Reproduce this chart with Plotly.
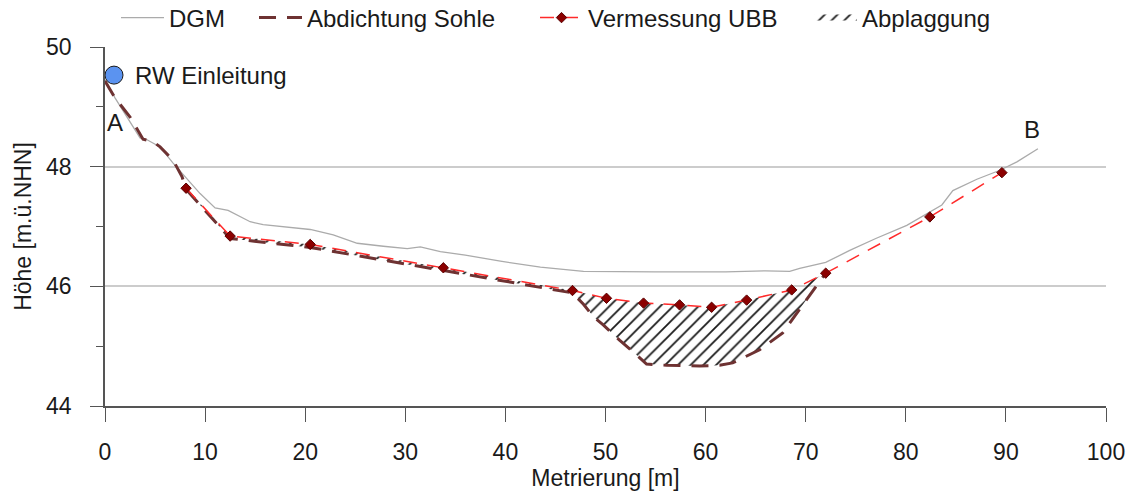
import plotly.graph_objects as go

# ---------------- data ----------------
dgm_x = [0.0, 1.0, 3.5, 4.2, 5.5, 6.8, 9.5, 11.0, 12.3, 14.5, 15.8, 18.5, 20.5, 22.8, 25.2,
         27.8, 30.2, 31.5, 33.5, 36.0, 39.5, 43.5, 46.2, 47.8, 55.0, 62.0, 66.0, 68.4, 69.4,
         72.0, 74.4, 77.0, 80.1, 82.5, 83.6, 84.7, 87.1, 89.4, 91.1, 93.2]
dgm_y = [49.45, 49.15, 48.48, 48.45, 48.33, 48.06, 47.55, 47.31, 47.27, 47.08, 47.03, 46.98,
         46.95, 46.86, 46.72, 46.67, 46.63, 46.66, 46.58, 46.52, 46.42, 46.32, 46.27, 46.25,
         46.24, 46.24, 46.26, 46.25, 46.30, 46.40, 46.60, 46.80, 47.02, 47.25, 47.36, 47.60,
         47.79, 47.94, 48.08, 48.30]

ubb_x = [8.1, 12.5, 20.5, 33.8, 46.7, 50.1, 53.8, 57.4, 60.6, 64.1, 68.6, 72.0, 82.4, 89.6]
ubb_y = [47.64, 46.84, 46.70, 46.31, 45.93, 45.80, 45.72, 45.69, 45.65, 45.77, 45.94, 46.22,
         47.16, 47.90]

sohle_x = [0.0, 1.0, 2.5, 3.8, 4.8, 5.5, 6.8, 7.7, 8.1, 12.5, 20.5, 33.8, 46.7, 47.8, 48.8,
           49.8, 51.4, 52.8, 54.1, 56.1, 59.4, 61.4, 62.7, 65.4, 67.7, 69.1, 70.5, 72.0]
sohle_y = [49.43, 49.15, 48.83, 48.46, 48.42, 48.33, 48.11, 47.83, 47.62, 46.80, 46.65, 46.26,
           45.89, 45.70, 45.49, 45.35, 45.10, 44.90, 44.70, 44.68, 44.67, 44.68, 44.72, 44.94,
           45.22, 45.55, 45.88, 46.22]

rw_x = [0.9]
rw_y = [49.53]
rw_label = "RW Einleitung"

x_ticks = [0, 10, 20, 30, 40, 50, 60, 70, 80, 90, 100]
y_ticks = [44, 46, 48, 50]

FONT = "Liberation Sans, Arial, sans-serif"
FS = 23

# Abplaggung polygon: top = survey line, bottom = sealing line (same x range)
top_x = [x for x in ubb_x if x <= 72.0]
top_y = [y for x, y in zip(ubb_x, ubb_y) if x <= 72.0]
bot_x = [x for x in sohle_x if x >= 8.1]
bot_y = [y for x, y in zip(sohle_x, sohle_y) if x >= 8.1]
poly_x = top_x + bot_x[::-1]
poly_y = top_y + bot_y[::-1]

fig = go.Figure()

fig.add_trace(go.Scatter(
    x=poly_x, y=poly_y, mode="none", fill="toself", name="Abplaggung",
    fillcolor="rgba(255,255,255,0)",
    fillpattern=dict(shape="/", fgcolor="#1a1a1a", fgopacity=1,
                     bgcolor="rgba(255,255,255,0)", size=9, solidity=0.2),
    legend="legend4"))

fig.add_trace(go.Scatter(
    x=dgm_x, y=dgm_y, mode="lines", name="DGM",
    line=dict(color="#ababab", width=1.3), legend="legend"))

fig.add_trace(go.Scatter(
    x=sohle_x, y=sohle_y, mode="lines", name="Abdichtung Sohle",
    line=dict(color="#6e3232", width=3, dash="17px,11px"), legend="legend2"))

fig.add_trace(go.Scatter(
    x=ubb_x, y=ubb_y, mode="lines+markers", name="Vermessung UBB",
    line=dict(color="#ff2a2a", width=1.5, dash="14px,10px"),
    marker=dict(symbol="diamond", size=8, color="#8b0000",
                line=dict(color="#5a0000", width=1)),
    legend="legend3"))

fig.add_trace(go.Scatter(
    x=rw_x, y=rw_y, mode="markers", name=rw_label, showlegend=False,
    marker=dict(symbol="circle", size=18, color="#5b93f0",
                line=dict(color="#1a1a1a", width=1)),
    cliponaxis=False))

fig.add_annotation(x=2.8, y=rw_y[0], xref="x", yref="y", text=rw_label, showarrow=False,
                   xanchor="left", yanchor="middle", font=dict(family=FONT, size=24, color="#1a1a1a"))
fig.add_annotation(x=1.0, y=48.73, xref="x", yref="y", text="A", showarrow=False,
                   font=dict(family=FONT, size=24, color="#1a1a1a"))
fig.add_annotation(x=92.6, y=48.62, xref="x", yref="y", text="B", showarrow=False,
                   font=dict(family=FONT, size=24, color="#1a1a1a"))

W, H = 1135, 492


def leg(px, py):
    return dict(xref="container", yref="container", x=px / W, y=1 - py / H,
                xanchor="left", yanchor="middle", orientation="h",
                bgcolor="rgba(0,0,0,0)", borderwidth=0, itemwidth=43,
                font=dict(family=FONT, size=24, color="#1a1a1a"))


fig.update_layout(
    width=W, height=H,
    margin=dict(l=105, r=29, t=47, b=86, autoexpand=False),
    paper_bgcolor="white", plot_bgcolor="white",
    font=dict(family=FONT, size=FS, color="#1a1a1a"),
    legend=leg(116, 18),
    legend2=leg(254, 18),
    legend3=leg(535, 18),
    legend4=leg(809, 18),
    xaxis=dict(range=[0, 100], tickvals=x_ticks, showgrid=False, zeroline=False,
               showline=True, linecolor="#555555", linewidth=1.5,
               ticks="outside", ticklen=14, tickwidth=1.3, tickcolor="#555555",
               ticklabelstandoff=11,
               title=dict(text="Metrierung [m]", standoff=6,
                          font=dict(family=FONT, size=FS))),
    yaxis=dict(range=[44, 50], tickvals=y_ticks, showgrid=True, gridcolor="#cccccc",
               gridwidth=1.5, zeroline=False,
               showline=True, linecolor="#555555", linewidth=1.5,
               ticks="outside", ticklen=13, tickwidth=1.3, tickcolor="#555555",
               ticklabelstandoff=14,
               minor=dict(dtick=1, tick0=44, ticks="outside", ticklen=7,
                          tickcolor="#555555", tickwidth=1.3, showgrid=False),
               title=dict(text="Höhe [m.ü.NHN]", standoff=8,
                          font=dict(family=FONT, size=FS))),
)

fig.write_html("out.html")
